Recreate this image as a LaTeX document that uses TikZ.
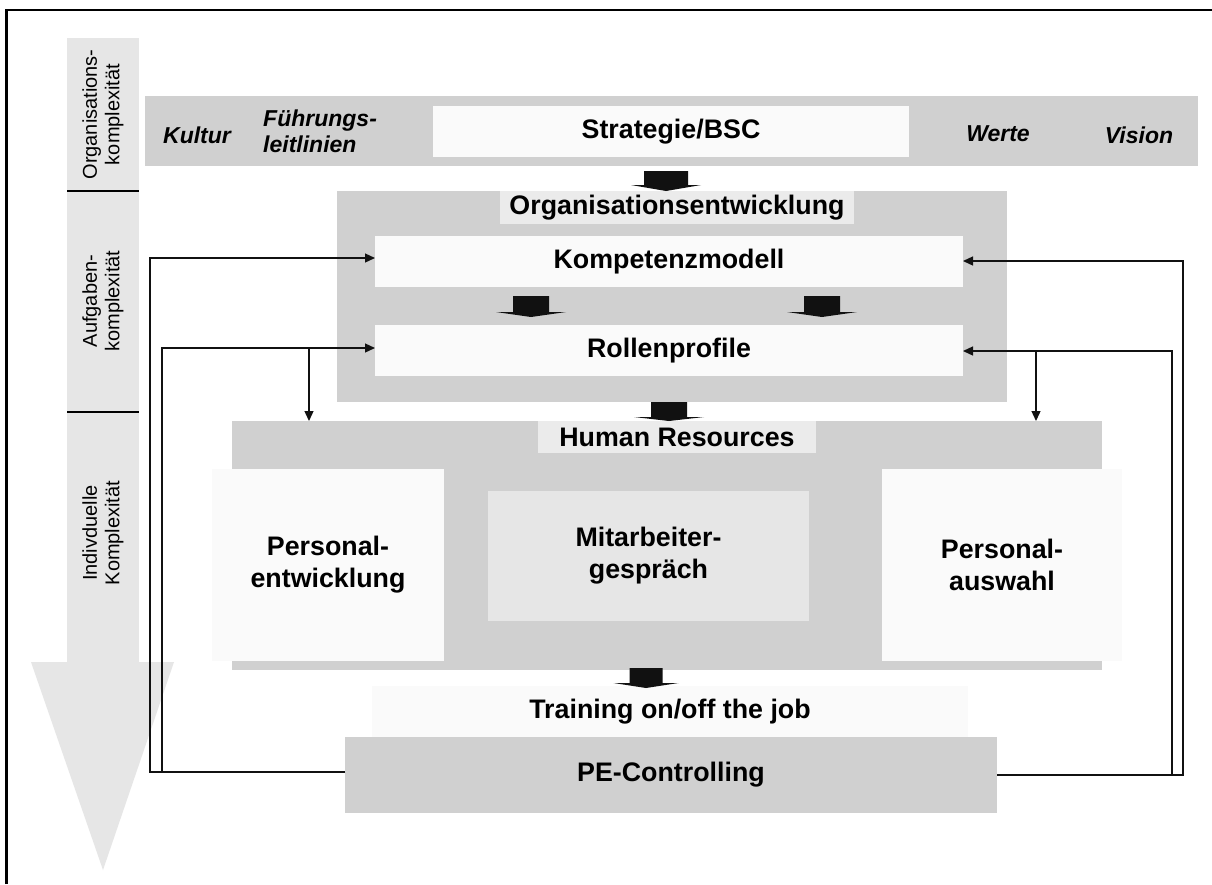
\documentclass[tikz,border=0pt]{standalone}
\usepackage{fontspec}
\setmainfont{Liberation Sans}
\usetikzlibrary{arrows.meta,calc}
\definecolor{band}{HTML}{D0D0D0}
\definecolor{pale}{HTML}{FAFAFA}
\definecolor{lab}{HTML}{EBEBEB}
\definecolor{mid}{HTML}{E6E6E6}
\definecolor{ink}{HTML}{111111}
\newcommand\bigf{\fontsize{26.8}{32}\selectfont\bfseries}
\newcommand\itf{\fontsize{23}{26}\selectfont\bfseries\itshape}
\newcommand\colf{\fontsize{20}{22.5}\selectfont}
\begin{document}
\begin{tikzpicture}[x=1pt,y=-1pt,
  box/.style={draw=none, inner sep=0pt, outer sep=0pt, align=center, font=\bigf},
  itlab/.style={inner sep=0pt, font=\itf},
  collab/.style={inner sep=0pt, rotate=90, align=center, font=\colf},
  conn/.style={line width=1.3pt, draw=ink},
  tip/.style={-{Triangle[length=10pt,width=9pt]}},
  pics/blk/.style n args={4}{code={
    \fill[ink] (-#1,0) -- (#1,0) -- (#1,#3) -- (#2,#3) -- (0,#4) -- (-#2,#3) -- (-#1,#3) -- cycle;}}
]
\useasboundingbox (0,0) rectangle (1212,884);
\fill[white] (0,0) rectangle (1212,884);

% left complexity column
\fill[mid] (67,38) rectangle (139,662);
\fill[mid] (31,662) -- (174,662) -- (103,870) -- cycle;
\draw[line width=1.3pt] (67,191) -- (139,191);
\draw[line width=1.3pt] (67,412) -- (139,412);
\node[collab] (c1) at (103,114.5) {Organisations-\\komplexität};
\node[collab] (c2) at (103,301) {Aufgaben-\\komplexität};
\node[collab] (c3) at (103,533) {Indivduelle\\Komplexität};

% top band
\node[box, fill=band, minimum width=1053, minimum height=70] (top) at (671.5,131) {};
\node[box, fill=pale, minimum width=476, minimum height=51] (strat) at (671,131.5) {Strategie/BSC};
\node[itlab] (kultur) at (197,135) {Kultur};
\node[itlab, align=left, anchor=west] (fuehr) at (263,131) {Führungs-\\leitlinien};
\node[itlab] (werte) at (998,134) {Werte};
\node[itlab] (vision) at (1139,135) {Vision};

% Organisationsentwicklung
\node[box, fill=band, minimum width=670, minimum height=211] (oe) at (672,296.5) {};
\node[box, fill=lab, minimum width=354, minimum height=33] (oelab) at (677,207.5) {Organisationsentwicklung};
\node[box, fill=pale, minimum width=588, minimum height=51] (kom) at (669,261.5) {Kompetenzmodell};
\node[box, fill=pale, minimum width=588, minimum height=51] (rol) at (669,350.5) {Rollenprofile};

% Human Resources
\node[box, fill=band, minimum width=870, minimum height=249] (hr) at (667,545.5) {};
\node[box, fill=lab, minimum width=278, minimum height=32] (hrlab) at (677,437) {Human Resources};
\node[box, fill=pale, minimum width=232, minimum height=192] (pe) at (328,565) {Personal-\\entwicklung};
\node[box, fill=mid, minimum width=321, minimum height=130] (mit) at (648.5,556) {Mitarbeiter-\\gespräch};
\node[box, fill=pale, minimum width=240, minimum height=192] (pa) at (1002,565) {Personal-\\auswahl};

% Training and Controlling
\node[box, fill=pale, minimum width=596, minimum height=51] (train) at (670,711.5) {Training on/off the job};
\node[box, fill=band, minimum width=652, minimum height=76] (pec) at (671,775) {PE-Controlling};

% connectors
\coordinate (lo) at (150,258);
\coordinate (li) at (162,348);
\coordinate (ro) at (1183,261);
\coordinate (ri) at (1172,351);
\coordinate (lb) at (309,348);
\coordinate (rb) at (1036,351);
\draw[conn,tip] ([yshift=3pt]pec.west) -| (lo) -- (kom.west |- lo);
\draw[conn,tip] ([yshift=3pt]pec.west) -| (li) -- (rol.west |- li);
\draw[conn,tip] (lb) -- (lb |- hr.north);
\draw[conn,tip] (pec.east) -| (ro) -- (kom.east |- ro);
\draw[conn,tip] (pec.east) -| (ri) -- (rol.east |- ri);
\draw[conn,tip] (rb) -- (rb |- hr.north);

% block arrows
\pic at (666,171) {blk={22}{35}{14}{20}};
\pic at (531,296) {blk={18}{35}{16}{21}};
\pic at (822,296) {blk={18}{35}{16}{21}};
\pic at (669,402) {blk={18}{35}{15}{19}};
\pic at (646,668) {blk={16.5}{32.5}{15}{20}};

% frame (left and top only)
\draw[line width=2.5pt] (6.5,884) -- (6.5,10) -- (1212,10);
\end{tikzpicture}
\end{document}
